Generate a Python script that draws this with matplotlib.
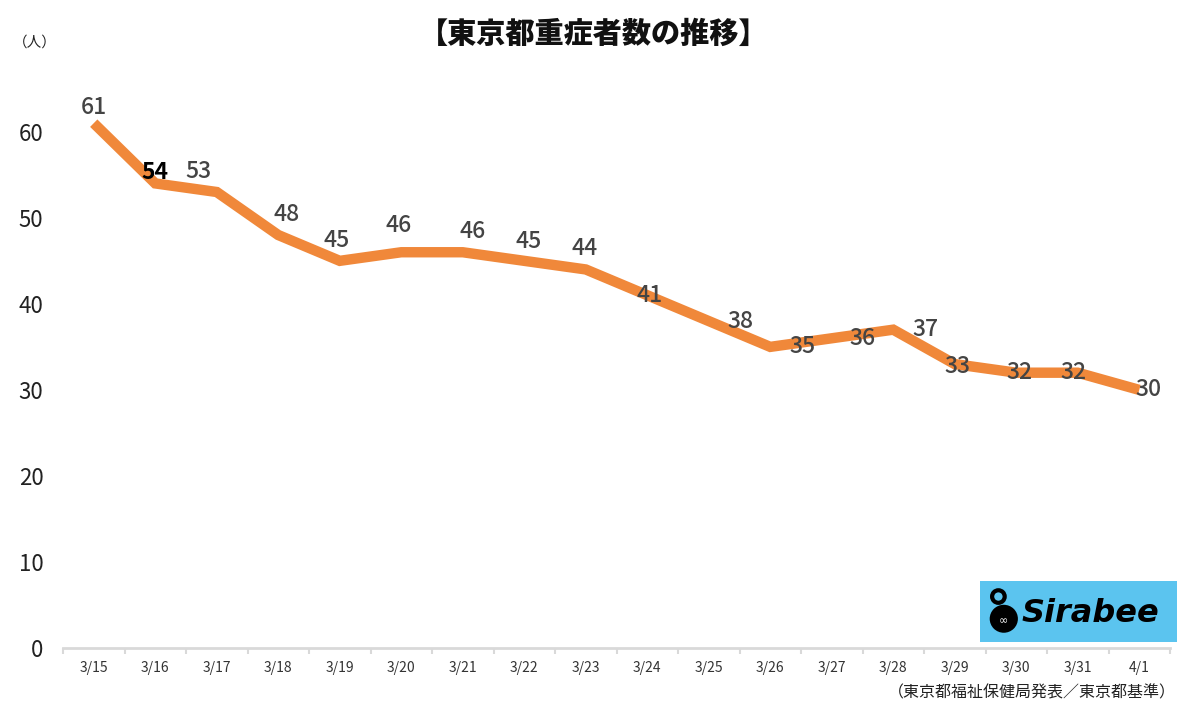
import matplotlib
matplotlib.use('Agg')
import matplotlib.pyplot as plt
from matplotlib.patches import Rectangle, Ellipse

plt.rcParams['font.family'] = ['Noto Sans CJK JP', 'DejaVu Sans']

# data
dates = ['3/15', '3/16', '3/17', '3/18', '3/19', '3/20', '3/21', '3/22', '3/23',
         '3/24', '3/25', '3/26', '3/27', '3/28', '3/29', '3/30', '3/31', '4/1']
severe = [61, 54, 53, 48, 45, 46, 46, 45, 44, 41, 38, 35, 36, 37, 33, 32, 32, 30]
# label offsets in points (dx, dy), like the excel placement
label_offsets = [(0, 11), (0, 8), (-13, 15), (6, 15), (-2, 15), (-2, 19), (7, 15), (3, 14),
                 (-1, 15), (2, 0), (23, 0), (23, 0), (22, 0), (23, 0), (2, -2), (2, 0), (-3, 0), (7, 0)]

fig = plt.figure(figsize=(12, 7.17), dpi=100)
ax = fig.add_axes([0.0525, 0.0962, 0.9225, 0.84])

x = range(len(dates))
ax.plot(x, severe, color='#F0883A', linewidth=7.5, solid_joinstyle='miter', solid_capstyle='butt')

for i, v in enumerate(severe):
    dx, dy = label_offsets[i]
    col = '#000000' if i == 1 else '#444444'
    ax.annotate(str(v), (i, v), xytext=(dx, dy), textcoords='offset points',
                ha='center', va='center', fontsize=16.5, color=col,
                fontweight='bold' if i == 1 else 'medium')

ax.set_xlim(-0.5, len(dates) - 0.5)
ax.set_ylim(0, 70)
ax.set_yticks([0, 10, 20, 30, 40, 50, 60])
ax.set_xticks(list(x))
ax.set_xticklabels(dates, fontsize=10, color='#333333')
ax.set_xticks([i - 0.5 for i in range(len(dates) + 1)], minor=True)
ax.tick_params(axis='x', which='major', length=0, pad=9)
ax.tick_params(axis='x', which='minor', length=4, width=1.5, color='#D9D9D9', direction='out')
ax.tick_params(axis='y', length=0, labelsize=16, labelcolor='#222222', pad=14)

for s in ['top', 'right', 'left']:
    ax.spines[s].set_visible(False)
ax.spines['bottom'].set_color('#D9D9D9')
ax.spines['bottom'].set_linewidth(2)

fig.text(0.495, 0.953, '【東京都重症者数の推移】', ha='center', va='center',
         fontsize=21, fontweight='heavy', color='#111111')
fig.text(0.029, 0.941, '（人）', ha='center', va='center', fontsize=10.5, color='#222222')
fig.text(0.98, 0.034, '（東京都福祉保健局発表／東京都基準）', ha='right', va='center',
         fontsize=11.5, color='#222222')

# Sirabee logo box
fig.patches.append(Rectangle((0.8165, 0.104), 0.164, 0.086, transform=fig.transFigure,
                             facecolor='#5BC4EF', edgecolor='none', zorder=5))
# icon: round body and a small loop on top
fig.patches.append(Ellipse((0.8365, 0.137), 0.0235, 0.039, transform=fig.transFigure,
                           facecolor='black', zorder=6))
fig.patches.append(Ellipse((0.832, 0.168), 0.0105, 0.0175, transform=fig.transFigure,
                           facecolor='none', edgecolor='black', linewidth=3, zorder=6))
fig.text(0.8365, 0.133, '∞', ha='center', va='center', fontsize=8, color='white',
         family='DejaVu Sans', zorder=7)
fig.text(0.9085, 0.144, 'Sirabee', ha='center', va='center', fontsize=23,
         fontweight='bold', style='italic', color='black', family='DejaVu Sans', zorder=7)

fig.savefig('out.png', dpi=100)
